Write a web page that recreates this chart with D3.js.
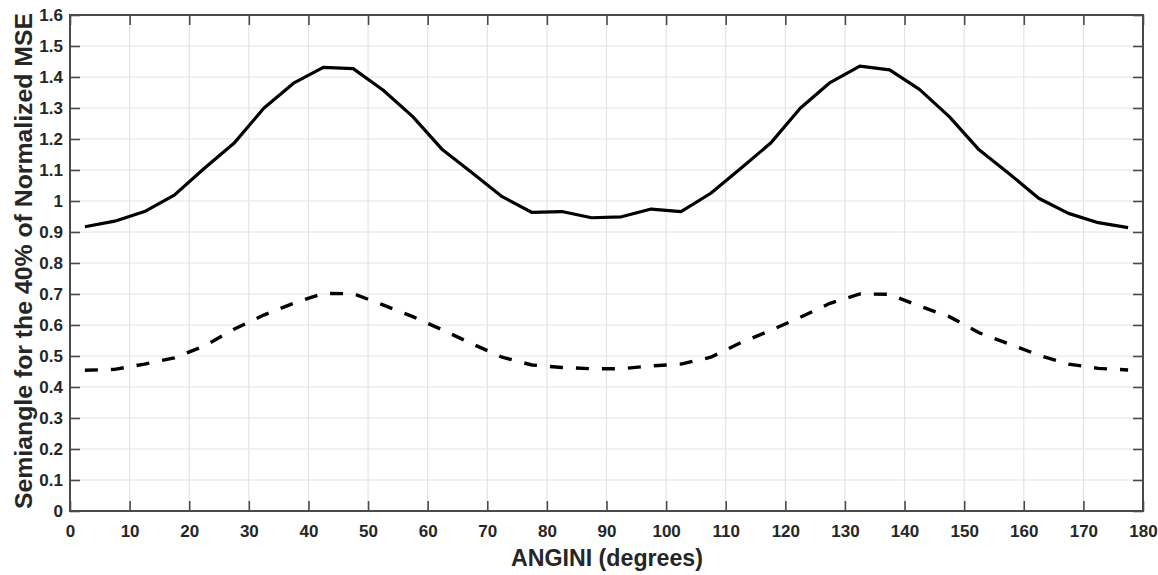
<!DOCTYPE html>
<html>
<head>
<meta charset="utf-8">
<script src="https://cdn.jsdelivr.net/npm/d3@7"></script>
<style>
  body { margin: 0; background: #fff; }
  svg text { font-family: "Liberation Sans", Arial, sans-serif; font-weight: bold; fill: #262626; }
</style>
</head>
<body>
<script>
// angles where the curves were sampled (degrees)
const angles = d3.range(2.5, 180, 5);

// solid curve: semiangle for 40% of normalized MSE
const solidValues = [0.917, 0.935, 0.966, 1.019, 1.105, 1.186, 1.299, 1.380, 1.431, 1.427,
  1.358, 1.272, 1.165, 1.090, 1.014, 0.963, 0.966, 0.946, 0.949, 0.974,
  0.966, 1.025, 1.105, 1.186, 1.299, 1.382, 1.435, 1.423, 1.360, 1.272,
  1.165, 1.089, 1.009, 0.960, 0.930, 0.914];

// dashed curve
const dashedValues = [0.454, 0.457, 0.474, 0.494, 0.532, 0.586, 0.632, 0.670, 0.702, 0.701,
  0.665, 0.627, 0.584, 0.539, 0.496, 0.471, 0.463, 0.459, 0.459, 0.468,
  0.474, 0.496, 0.543, 0.582, 0.625, 0.670, 0.700, 0.699, 0.661, 0.627,
  0.575, 0.539, 0.503, 0.474, 0.460, 0.455];

const xTicks = d3.range(0, 181, 10);
const yTicks = d3.range(0, 17).map(i => i / 10);

const width = 1158, height = 575;
const margin = {top: 15, right: 15, bottom: 64, left: 70};

const svg = d3.select("body").append("svg")
  .attr("width", width)
  .attr("height", height);

const x = d3.scaleLinear().domain([0, 180]).range([margin.left, width - margin.right]);
const y = d3.scaleLinear().domain([0, 1.6]).range([height - margin.bottom, margin.top]);

// grid
const grid = svg.append("g").attr("stroke", "#e3e3e3").attr("stroke-width", 1.2);
grid.selectAll(".vg").data(xTicks.slice(1, -1)).enter().append("line")
  .attr("x1", d => x(d)).attr("x2", d => x(d))
  .attr("y1", y(0)).attr("y2", y(1.6));
grid.selectAll(".hg").data(yTicks.slice(1, -1)).enter().append("line")
  .attr("x1", x(0)).attr("x2", x(180))
  .attr("y1", d => y(d)).attr("y2", d => y(d));

// axes with inward ticks
function styleAxis(g) {
  g.select(".domain").remove();
  g.selectAll(".tick line").attr("stroke", "#4a4a4a").attr("stroke-width", 1.6);
  g.selectAll(".tick text").style("font-size", "17px").attr("fill", "#262626");
}

svg.append("g")
  .attr("transform", `translate(0,${y(0)})`)
  .call(d3.axisBottom(x).tickValues(xTicks).tickFormat(d3.format("d"))
    .tickSizeInner(-10).tickSizeOuter(0).tickPadding(14))
  .call(styleAxis);

svg.append("g")
  .attr("transform", `translate(0,${y(1.6)})`)
  .call(d3.axisTop(x).tickValues(xTicks).tickFormat("")
    .tickSizeInner(-10).tickSizeOuter(0))
  .call(styleAxis);

svg.append("g")
  .attr("transform", `translate(${x(0)},0)`)
  .call(d3.axisLeft(y).tickValues(yTicks).tickFormat(d => d3.format("")(+d.toFixed(1)))
    .tickSizeInner(-10).tickSizeOuter(0).tickPadding(7))
  .call(styleAxis);

svg.append("g")
  .attr("transform", `translate(${x(180)},0)`)
  .call(d3.axisRight(y).tickValues(yTicks).tickFormat("")
    .tickSizeInner(-10).tickSizeOuter(0))
  .call(styleAxis);

// box
svg.append("rect")
  .attr("x", x(0)).attr("y", y(1.6))
  .attr("width", x(180) - x(0)).attr("height", y(0) - y(1.6))
  .attr("fill", "none").attr("stroke", "#4a4a4a").attr("stroke-width", 2);

// curves
const line = d3.line().x(d => x(d[0])).y(d => y(d[1]));

svg.append("path")
  .datum(angles.map((a, i) => [a, solidValues[i]]))
  .attr("d", line)
  .attr("fill", "none").attr("stroke", "#000").attr("stroke-width", 3.2)
  .attr("stroke-linejoin", "round");

svg.append("path")
  .datum(angles.map((a, i) => [a, dashedValues[i]]))
  .attr("d", line)
  .attr("fill", "none").attr("stroke", "#000").attr("stroke-width", 3.4)
  .attr("stroke-dasharray", "13,13");

// axis titles
svg.append("text")
  .attr("x", 607)
  .attr("y", 566)
  .attr("text-anchor", "middle")
  .attr("textLength", 192)
  .attr("lengthAdjust", "spacingAndGlyphs")
  .style("font-size", "23px")
  .text("ANGINI (degrees)");

svg.append("text")
  .attr("transform", `translate(32,${261}) rotate(-90)`)
  .attr("text-anchor", "middle")
  .attr("textLength", 496)
  .attr("lengthAdjust", "spacingAndGlyphs")
  .style("font-size", "23px")
  .text("Semiangle for the 40% of Normalized MSE");
</script>
</body>
</html>
